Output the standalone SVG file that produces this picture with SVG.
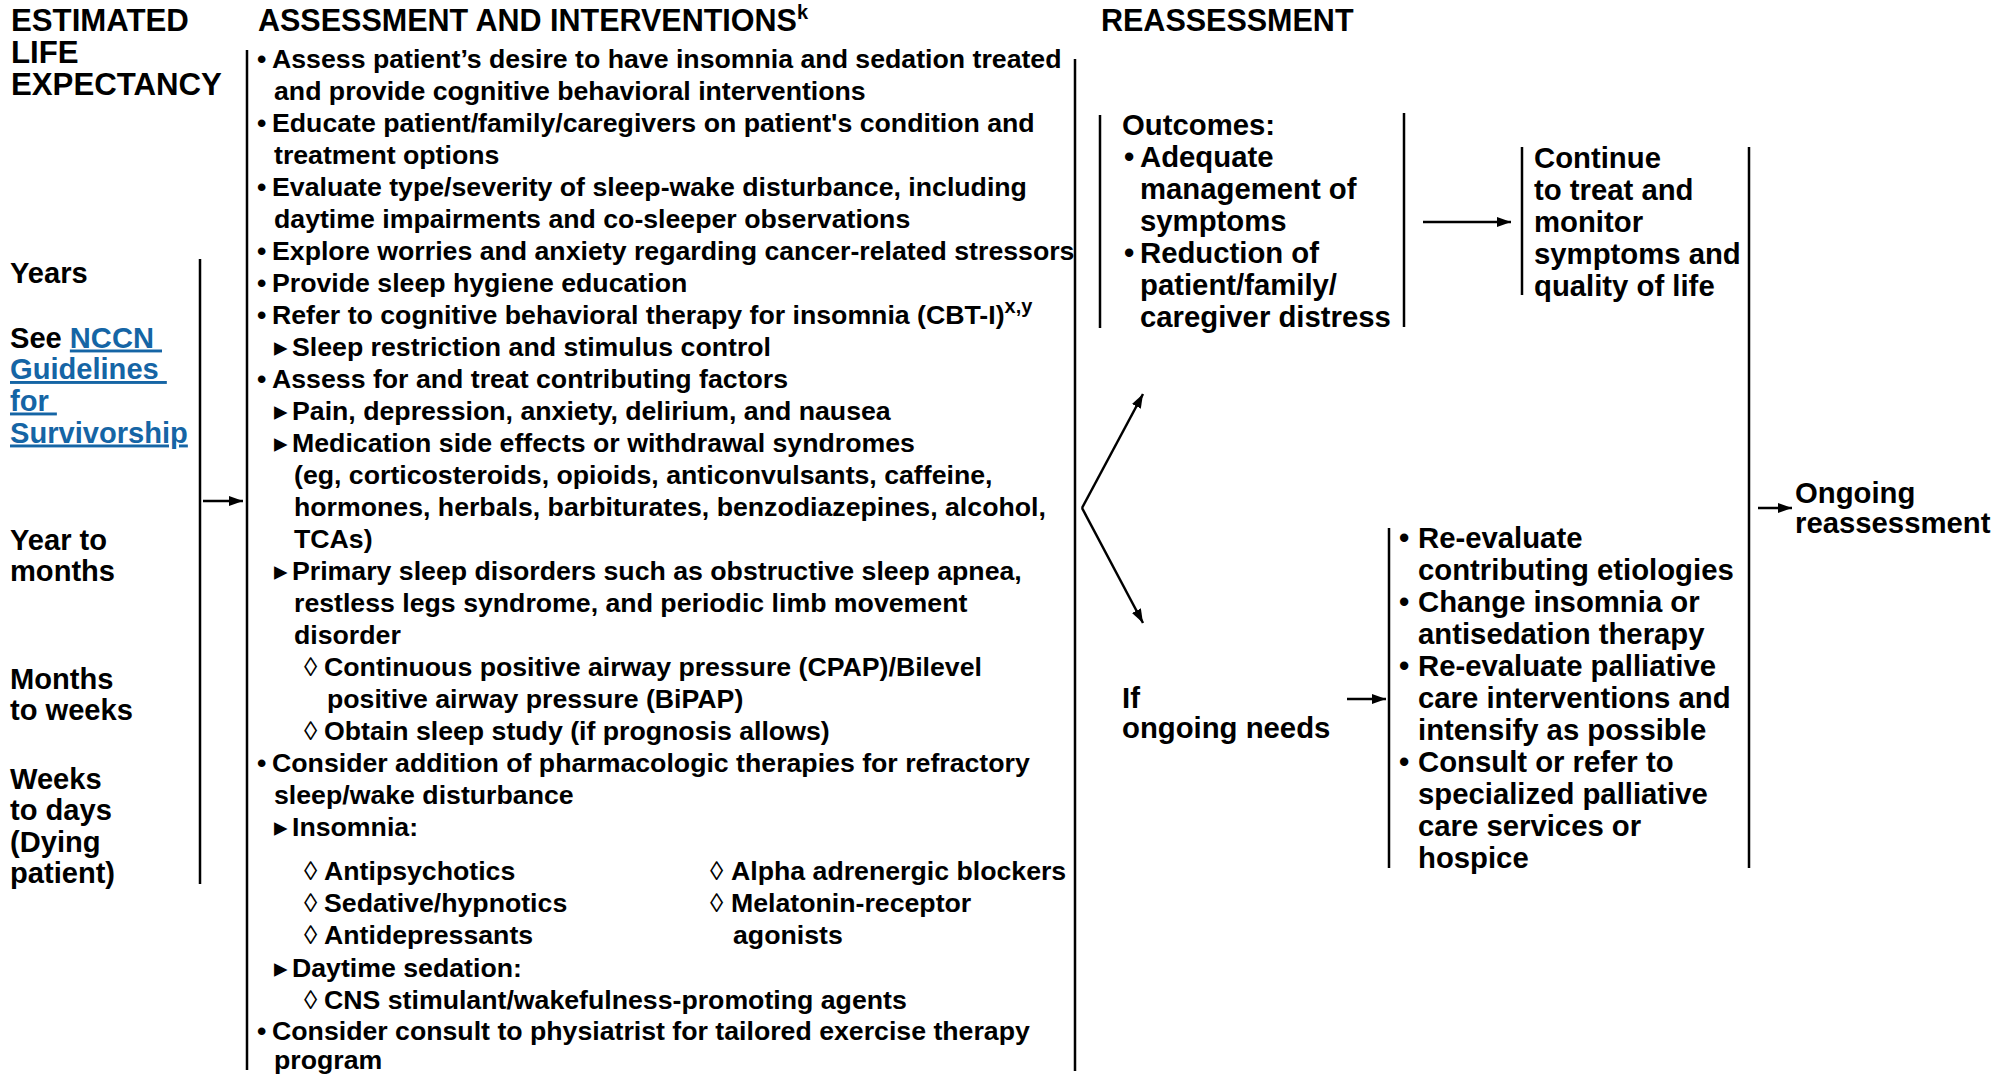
<svg xmlns="http://www.w3.org/2000/svg" width="2011" height="1075" viewBox="0 0 2011 1075">
<style>
text{font-family:"Liberation Sans",Arial,Helvetica,sans-serif;font-weight:bold;fill:#000}
.h{font-size:30.5px}
.hl{font-size:31.2px}
.l{font-size:29.1px}
.m{font-size:26.7px}
.r{font-size:29.3px}
.sup{font-size:20px}
.lz{font-weight:normal}
.lnk{fill:#1565a5;text-decoration:underline}
.bar{stroke:#000;stroke-width:2.5;fill:none}
.con{stroke:#000;stroke-width:2.5;fill:none;marker-end:url(#ah)}
</style>
<defs>
<marker id="ah" viewBox="0 0 14 10" refX="14" refY="5" markerWidth="14" markerHeight="10" markerUnits="userSpaceOnUse" orient="auto">
<path d="M0,0 L14,5 L0,10 z" fill="#000"/>
</marker>
</defs>
<rect width="2011" height="1075" fill="#fff"/>

<g id="headers">
<text class="hl" x="11" y="31">ESTIMATED</text>
<text class="hl" x="11" y="63">LIFE</text>
<text class="hl" x="11" y="95">EXPECTANCY</text>
<text class="h" x="258" y="31">ASSESSMENT AND INTERVENTIONS<tspan class="sup" dy="-12">k</tspan></text>
<text class="h" x="1101" y="31">REASSESSMENT</text>
</g>

<g id="life-expectancy">
<line class="bar" x1="200" y1="259" x2="200" y2="884"/>
<text class="l" x="10" y="283">Years</text>
<text class="l" x="10" y="347.5">See <tspan class="lnk">NCCN&#160;</tspan></text>
<text class="l lnk" x="10" y="379">Guidelines&#160;</text>
<text class="l lnk" x="10" y="410.5">for&#160;</text>
<text class="l lnk" x="10" y="442.5">Survivorship</text>
<text class="l" x="10" y="549.5">Year to</text>
<text class="l" x="10" y="581">months</text>
<text class="l" x="10" y="688.5">Months</text>
<text class="l" x="10" y="720">to weeks</text>
<text class="l" x="10" y="788.5">Weeks</text>
<text class="l" x="10" y="820">to days</text>
<text class="l" x="10" y="851.5">(Dying</text>
<text class="l" x="10" y="883">patient)</text>
</g>

<g id="assessment">
<line class="bar" x1="247" y1="50" x2="247" y2="1070"/>
<line class="bar" x1="1075" y1="59" x2="1075" y2="1071"/>
<text class="m" x="257" y="68.3">•</text><text class="m" x="272" y="68.3">Assess patient’s desire to have insomnia and sedation treated</text>
<text class="m" x="274" y="100.3">and provide cognitive behavioral interventions</text>
<text class="m" x="257" y="132.3">•</text><text class="m" x="272" y="132.3">Educate patient/family/caregivers on patient's condition and</text>
<text class="m" x="274" y="164.3">treatment options</text>
<text class="m" x="257" y="196.3">•</text><text class="m" x="272" y="196.3">Evaluate type/severity of sleep-wake disturbance, including</text>
<text class="m" x="274" y="228.3">daytime impairments and co-sleeper observations</text>
<text class="m" x="257" y="260.3">•</text><text class="m" x="272" y="260.3">Explore worries and anxiety regarding cancer-related stressors</text>
<text class="m" x="257" y="292.3">•</text><text class="m" x="272" y="292.3">Provide sleep hygiene education</text>
<text class="m" x="257" y="324.3">•</text><text class="m" x="272" y="324.3">Refer to cognitive behavioral therapy for insomnia (CBT-I)<tspan class="sup" dy="-11">x,y</tspan></text>
<text class="m lz" x="274" y="356.3">▸</text><text class="m" x="292" y="356.3">Sleep restriction and stimulus control</text>
<text class="m" x="257" y="388.3">•</text><text class="m" x="272" y="388.3">Assess for and treat contributing factors</text>
<text class="m lz" x="274" y="420.3">▸</text><text class="m" x="292" y="420.3">Pain, depression, anxiety, delirium, and nausea</text>
<text class="m lz" x="274" y="452.3">▸</text><text class="m" x="292" y="452.3">Medication side effects or withdrawal syndromes</text>
<text class="m" x="294" y="484.3">(eg, corticosteroids, opioids, anticonvulsants, caffeine,</text>
<text class="m" x="294" y="516.3">hormones, herbals, barbiturates, benzodiazepines, alcohol,</text>
<text class="m" x="294" y="548.3">TCAs)</text>
<text class="m lz" x="274" y="580.3">▸</text><text class="m" x="292" y="580.3">Primary sleep disorders such as obstructive sleep apnea,</text>
<text class="m" x="294" y="612.3">restless legs syndrome, and periodic limb movement</text>
<text class="m" x="294" y="644.3">disorder</text>
<text class="m lz" x="304" y="676.3">◊</text><text class="m" x="324" y="676.3">Continuous positive airway pressure (CPAP)/Bilevel</text>
<text class="m" x="327" y="708.3">positive airway pressure (BiPAP)</text>
<text class="m lz" x="304" y="740.3">◊</text><text class="m" x="324" y="740.3">Obtain sleep study (if prognosis allows)</text>
<text class="m" x="257" y="772.3">•</text><text class="m" x="272" y="772.3">Consider addition of pharmacologic therapies for refractory</text>
<text class="m" x="274" y="804.3">sleep/wake disturbance</text>
<text class="m lz" x="274" y="836.3">▸</text><text class="m" x="292" y="836.3">Insomnia:</text>
<text class="m lz" x="304" y="880">◊</text><text class="m" x="324" y="880">Antipsychotics</text>
<text class="m lz" x="304" y="911.8">◊</text><text class="m" x="324" y="911.8">Sedative/hypnotics</text>
<text class="m lz" x="304" y="943.5">◊</text><text class="m" x="324" y="943.5">Antidepressants</text>
<text class="m lz" x="710" y="880">◊</text><text class="m" x="731" y="880">Alpha adrenergic blockers</text>
<text class="m lz" x="710" y="911.8">◊</text><text class="m" x="731" y="911.8">Melatonin-receptor</text>
<text class="m" x="733" y="943.5">agonists</text>
<text class="m lz" x="274" y="976.5">▸</text><text class="m" x="292" y="976.5">Daytime sedation:</text>
<text class="m lz" x="304" y="1008.5">◊</text><text class="m" x="324" y="1008.5">CNS stimulant/wakefulness-promoting agents</text>
<text class="m" x="257" y="1039.5">•</text><text class="m" x="272" y="1039.5">Consider consult to physiatrist for tailored exercise therapy</text>
<text class="m" x="274" y="1069">program</text>
</g>

<g id="outcomes">
<line class="bar" x1="1100" y1="115" x2="1100" y2="328"/>
<line class="bar" x1="1404" y1="113" x2="1404" y2="327"/>
<text class="r" x="1122" y="134.5">Outcomes:</text>
<text class="r" x="1124" y="166.5">•</text><text class="r" x="1140" y="166.5">Adequate</text>
<text class="r" x="1140" y="198.5">management of</text>
<text class="r" x="1140" y="230.5">symptoms</text>
<text class="r" x="1124" y="262.5">•</text><text class="r" x="1140" y="262.5">Reduction of</text>
<text class="r" x="1140" y="294.5">patient/family/</text>
<text class="r" x="1140" y="326.5">caregiver distress</text>
</g>

<g id="continue">
<line class="bar" x1="1522" y1="147" x2="1522" y2="295"/>
<text class="r" x="1534" y="168">Continue</text>
<text class="r" x="1534" y="200">to treat and</text>
<text class="r" x="1534" y="232">monitor</text>
<text class="r" x="1534" y="264">symptoms and</text>
<text class="r" x="1534" y="295.5">quality of life</text>
</g>

<g id="ongoing-needs">
<text class="r" x="1122" y="708">If</text>
<text class="r" x="1122" y="737.5">ongoing needs</text>
</g>

<g id="interventions-2">
<line class="bar" x1="1389" y1="528" x2="1389" y2="868"/>
<text class="r" x="1399" y="548">•</text><text class="r" x="1418" y="548">Re-evaluate</text>
<text class="r" x="1418" y="580">contributing etiologies</text>
<text class="r" x="1399" y="611.9">•</text><text class="r" x="1418" y="611.9">Change insomnia or</text>
<text class="r" x="1418" y="643.9">antisedation therapy</text>
<text class="r" x="1399" y="675.8">•</text><text class="r" x="1418" y="675.8">Re-evaluate palliative</text>
<text class="r" x="1418" y="707.8">care interventions and</text>
<text class="r" x="1418" y="739.7">intensify as possible</text>
<text class="r" x="1399" y="771.7">•</text><text class="r" x="1418" y="771.7">Consult or refer to</text>
<text class="r" x="1418" y="803.6">specialized palliative</text>
<text class="r" x="1418" y="835.6">care services or</text>
<text class="r" x="1418" y="867.5">hospice</text>
</g>

<g id="ongoing-reassessment">
<line class="bar" x1="1749" y1="147" x2="1749" y2="868"/>
<text class="r" x="1795" y="502.5">Ongoing</text>
<text class="r" x="1795" y="533">reassessment</text>
</g>

<g id="connectors">
<line class="con" x1="203" y1="501" x2="243" y2="501"/>
<line class="con" x1="1082" y1="508" x2="1143" y2="394"/>
<line class="con" x1="1082" y1="508" x2="1143" y2="623"/>
<line class="con" x1="1423" y1="222" x2="1511" y2="222"/>
<line class="con" x1="1347" y1="699" x2="1386" y2="699"/>
<line class="con" x1="1758" y1="508" x2="1792" y2="508"/>
</g>
</svg>
